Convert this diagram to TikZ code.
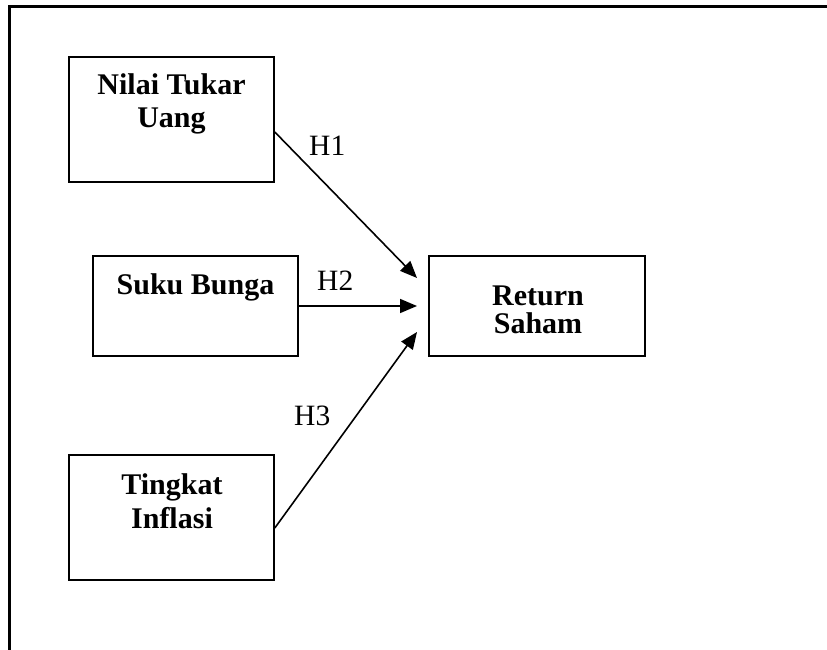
\documentclass[tikz,border=0pt]{standalone}
\usepackage{fontspec}
\setmainfont{Liberation Serif}
\usetikzlibrary{arrows.meta}
\begin{document}
\begin{tikzpicture}[x=1pt,y=-1pt,
  box/.style={draw,line width=1.6pt,inner sep=0pt,minimum width=#1},
  lbl/.style={inner sep=0pt,anchor=base,font=\fontsize{30}{33}\selectfont\bfseries},
  hyp/.style={inner sep=0pt,anchor=base west,font=\fontsize{29.5}{33}\selectfont},
  arr/.style={line width=1.6pt,-{Triangle[length=17pt,width=14pt]}}]
\useasboundingbox (0,0) rectangle (827,650);
\draw[line width=2.2pt] (9.5,651) -- (9.5,6.5) -- (828,6.5);
% boxes
\node[box=205pt,minimum height=125pt] (ntu) at (171.5,119.5) {};
\node[box=205pt,minimum height=100pt] (sb) at (195.5,306) {};
\node[box=216pt,minimum height=100pt] (rs) at (537,306) {};
\node[box=205pt,minimum height=125pt] (ti) at (171.5,517.5) {};
% texts
\node[lbl] (t1a) at (171.5,95) {Nilai Tukar};
\node[lbl] (t1b) at (171.5,128) {Uang};
\node[lbl] (t2) at (195.5,294) {Suku Bunga};
\node[lbl] (t3a) at (538,305) {Return};
\node[lbl] (t3b) at (538,333) {Saham};
\node[lbl] (t4a) at (172,494) {Tingkat};
\node[lbl] (t4b) at (172,528) {Inflasi};
% arrows
\coordinate (e1) at (417,278);
\coordinate (e2) at (417,306);
\coordinate (e3) at (417,332);
\draw[arr] (ntu.east |- 0,132) -- (e1);
\draw[arr] (sb.east) -- (e2);
\draw[arr] (ti.east |- 0,528) -- (e3);
% hypothesis labels
\node[hyp] (h1) at (309,155) {H1};
\node[hyp] (h2) at (317,290) {H2};
\node[hyp] (h3) at (294,425) {H3};
\end{tikzpicture}
\end{document}
